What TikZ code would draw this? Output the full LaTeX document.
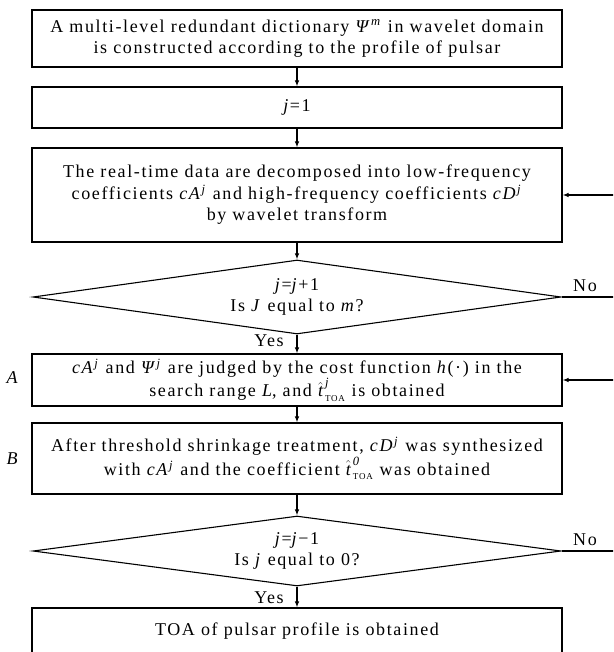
\documentclass[tikz,border=0pt]{standalone}
\usepackage{amsmath}
\usepackage{fontspec}
\setmainfont{Liberation Serif}[LetterSpace=9]
\usetikzlibrary{shapes.geometric,arrows.meta}
\newcommand{\supj}{\textsuperscript{\textit{j}}}
\newcommand{\toa}[1]{$\hat{\textit{t}}^{\,\textit{#1}}_{\,\scriptscriptstyle\text{TOA}}$}

\begin{document}
\begin{tikzpicture}[x=1pt, y=-1pt,
	font=\fontsize{18}{21.5}\selectfont,
	box/.style={draw, line width=1.1pt, minimum width=530pt, align=center, inner sep=0pt},
	decide/.style={draw, diamond, line width=1.1pt, minimum width=528pt, inner sep=0pt, align=center},
	conn/.style={line width=1.1pt, -{Latex[length=6pt, width=4.5pt]}}]
	\useasboundingbox (0,0) rectangle (613,652);
	\clip (0,0) rectangle (613,652);
	%boxes
	\node[box, minimum height=57pt] (dict) at (297,38.5)
		{A multi-level redundant dictionary \textit{Ψ}\textsuperscript{\textit{m}} in wavelet domain\\
		 is constructed according to the profile of pulsar};
	\node[box, minimum height=41pt] (start) at (297,107.5) {\textit{j}=1};
	\node[box, minimum height=94pt] (split) at (297,195)
		{The real-time data are decomposed into low-frequency\\
		 coefficients \textit{cA}\supj{} and high-frequency coefficients \textit{cD}\supj\\
		 by wavelet transform};
	\node[decide, aspect=7.1, minimum height=74pt] (up) at (297,297)
		{\textit{j}=\textit{j}+1\\ Is \textit{J} equal to \textit{m}?};
	\node[box, minimum height=52pt] (judge) at (297,380)
		{\textit{cA}\supj{} and \textit{Ψ}\supj{} are judged by the cost function \textit{h}(·) in the\\
		 search range \textit{L}, and \toa{j} is obtained};
	\node[box, minimum height=71pt] (synth) at (297,458.5)
		{After threshold shrinkage treatment, \textit{cD}\supj{} was synthesized\\
		 with \textit{cA}\supj{} and the coefficient \toa{0} was obtained};
	\node[decide, aspect=7.5, minimum height=70pt] (down) at (297,551)
		{\textit{j}=\textit{j}−1\\ Is \textit{j} equal to 0?};
	\node[box, minimum height=46pt] (toa) at (297,631) {TOA of pulsar profile is obtained};
	%side labels
	\node (labA) at (13,378) {\textit{A}};
	\node (labB) at (13,459) {\textit{B}};
	\node (yes1) at (269,341) {Yes};
	\node (yes2) at (269,598) {Yes};
	\node (no1) at (585,286) {No};
	\node (no2) at (585,540) {No};
	%flow
	\draw[conn] (dict) -- (start);
	\draw[conn] (start) -- (split);
	\draw[conn] (split) -- (up);
	\draw[conn] (up) -- (judge);
	\draw[conn] (judge) -- (synth);
	\draw[conn] (synth) -- (down);
	\draw[conn] (down) -- (toa);
	%loops back, turning outside the page
	\draw[conn] (up.east) -- ++(70,0) |- (split.east);
	\draw[conn] (down.east) -- ++(70,0) |- (judge.east);
\end{tikzpicture}
\end{document}
